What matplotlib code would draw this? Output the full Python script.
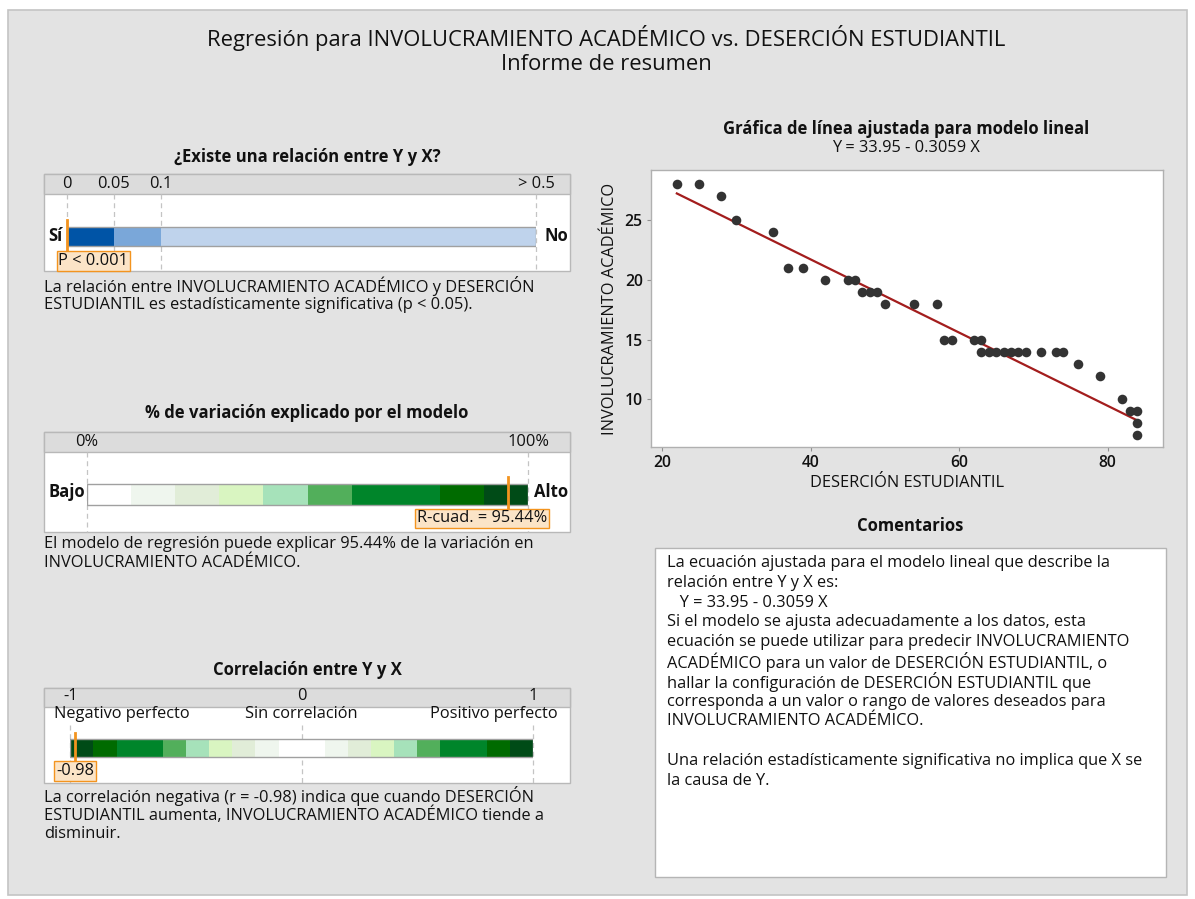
import numpy as np
import matplotlib
matplotlib.use("Agg")
import matplotlib.pyplot as plt
from matplotlib.patches import Rectangle

plt.rcParams['font.family'] = ['Open Sans', 'DejaVu Sans']

# ---------------- data ----------------
desercion = [22, 25, 28, 30, 35, 37, 39, 42, 45, 46, 47, 48, 49, 50, 54, 57, 58, 59,
             62, 63, 63, 64, 65, 66, 67, 68, 69, 71, 73, 74, 76, 79, 82, 83, 84, 84, 84]
involucramiento = [28, 28, 27, 25, 24, 21, 21, 20, 20, 20, 19, 19, 19, 18, 18, 18, 15, 15,
                   15, 15, 14, 14, 14, 14, 14, 14, 14, 14, 14, 14, 13, 12, 10, 9, 9, 8, 7]
intercept = 33.95
slope = -0.3059
r_squared = 95.44
correlation = -0.98
p_value = 0.0005
p_label = "P < 0.001"

p_breaks = [0, 0.05, 0.1, 0.5]
p_pos = [0, 1, 2, 10]
p_tick_labels = ['0', '0.05', '0.1', '> 0.5']
p_colors = ['#0054a6', '#7aa7d9', '#bfd3ec']

r2_edges = [0, 10, 20, 30, 40, 50, 60, 70, 80, 90, 100]
r2_colors = ['#ffffff', '#eff6ee', '#e1edd8', '#d9f5c1', '#a6e2ba', '#52af5b',
             '#00852a', '#00852a', '#006b00', '#004b17']
r2_tick_labels = ['0%', '100%']

corr_edges = [-1, -0.9, -0.8, -0.6, -0.5, -0.4, -0.3, -0.2, -0.1, 0.1,
              0.2, 0.3, 0.4, 0.5, 0.6, 0.8, 0.9, 1]
corr_colors = ['#004b17', '#006b00', '#00852a', '#52af5b', '#a6e2ba', '#d9f5c1',
               '#e1edd8', '#eff6ee', '#ffffff', '#eff6ee', '#e1edd8', '#d9f5c1',
               '#a6e2ba', '#52af5b', '#00852a', '#006b00', '#004b17']
corr_ticks = [-1, 0, 1]
corr_tick_labels = ['-1', '0', '1']

x_ticks = [20, 40, 60, 80]
y_ticks = [10, 15, 20, 25]

title1 = "Regresión para INVOLUCRAMIENTO ACADÉMICO vs. DESERCIÓN ESTUDIANTIL"
title2 = "Informe de resumen"
x_name = "DESERCIÓN ESTUDIANTIL"
y_name = "INVOLUCRAMIENTO ACADÉMICO"
eq = f"Y = {intercept:.2f} - {abs(slope):.4f} X"

comments = [
    "La ecuación ajustada para el modelo lineal que describe la",
    "relación entre Y y X es:",
    "   " + eq,
    "Si el modelo se ajusta adecuadamente a los datos, esta",
    "ecuación se puede utilizar para predecir INVOLUCRAMIENTO",
    "ACADÉMICO para un valor de DESERCIÓN ESTUDIANTIL, o",
    "hallar la configuración de DESERCIÓN ESTUDIANTIL que",
    "corresponda a un valor o rango de valores deseados para",
    "INVOLUCRAMIENTO ACADÉMICO.",
    "",
    "Una relación estadísticamente significativa no implica que X se",
    "la causa de Y.",
]
text1 = ["La relación entre INVOLUCRAMIENTO ACADÉMICO y DESERCIÓN",
         "ESTUDIANTIL es estadísticamente significativa (p < 0.05)."]
text2 = [f"El modelo de regresión puede explicar {r_squared:.2f}% de la variación en",
         "INVOLUCRAMIENTO ACADÉMICO."]
text3 = [f"La correlación negativa (r = {correlation:.2f}) indica que cuando DESERCIÓN",
         "ESTUDIANTIL aumenta, INVOLUCRAMIENTO ACADÉMICO tiende a",
         "disminuir."]

# ---------------- layout helpers ----------------
W, H = 1195, 899
fig = plt.figure(figsize=(W / 100, H / 100), dpi=100)
fig.patch.set_facecolor('white')

def rect(x0, y0, x1, y1):
    return [x0 / W, 1 - y1 / H, (x1 - x0) / W, (y1 - y0) / H]

BG = '#e3e3e3'
BORDER = '#c4c4c4'
HEADER = '#dcdcdc'
ORANGE = '#f3941f'
ORANGE_FACE = '#fbe4c7'
TXT = '#111111'
BODY = 11.8
BOLD = 12.0

bg = fig.add_axes([0, 0, 1, 1], zorder=0)
bg.set_xlim(0, W)
bg.set_ylim(H, 0)
bg.axis('off')
bg.add_patch(Rectangle((8, 10), 1179, 885, facecolor=BG, edgecolor=BORDER, lw=1.2))

bg.text(606, 46, title1, ha='center', va='baseline', fontsize=15.8, color=TXT)
bg.text(606, 70, title2, ha='center', va='baseline', fontsize=15.8, color=TXT)

def lines(x, y0, ls, step=19.2, **kw):
    for i, s in enumerate(ls):
        bg.text(x, y0 + i * step, s, ha='left', va='center', fontsize=BODY, color=TXT, **kw)

# panel boxes
panels = [
    dict(title="¿Existe una relación entre Y y X?", ty=157, box=(44, 174, 570, 271), hb=194),
    dict(title="% de variación explicado por el modelo", ty=413, box=(44, 432, 570, 532), hb=452),
    dict(title="Correlación entre Y y X", ty=670, box=(44, 688, 570, 783), hb=707),
]
for p in panels:
    x0, y0, x1, y1 = p['box']
    bg.add_patch(Rectangle((x0, y0), x1 - x0, y1 - y0, facecolor='white', edgecolor='#b8b8b8', lw=1))
    bg.add_patch(Rectangle((x0, y0), x1 - x0, p['hb'] - y0, facecolor=HEADER, edgecolor='#b8b8b8', lw=1))
    bg.text(307, p['ty'], p['title'], ha='center', va='center', fontsize=BOLD,
            fontweight='bold', color=TXT)

lines(44, 286, text1)
lines(44, 544, text2)
lines(44, 796, text3)


def gauge(px0, px1, box, xlim, scale=None):
    ax = fig.add_axes(rect(px0, box[1], px1, box[3]), zorder=2)
    if scale is not None:
        ax.set_xscale('function', functions=scale)
    ax.set_xlim(*xlim)
    ax.set_ylim(box[3], box[1])
    ax.axis('off')
    ax.patch.set_visible(False)
    return ax


def dashed(ax, xs, hb, yb):
    for x in xs:
        ax.plot([x, x], [hb, yb], color='#c4c4c4', lw=0.9, ls=(0, (4, 3)), clip_on=False, zorder=1)


def marker(ax, xv, ytop, ybot, label, dx_px, ylab):
    ax.plot([xv, xv], [ytop, ybot], color=ORANGE, lw=2, clip_on=False, zorder=5)
    ax.annotate(label, xy=(xv, ylab), xytext=(dx_px * 0.72, 0), textcoords='offset points',
                ha='center', va='center', fontsize=BODY, color=TXT, zorder=6,
                annotation_clip=False,
                bbox=dict(boxstyle='square,pad=0.1', facecolor=ORANGE_FACE, edgecolor=ORANGE, lw=1))

# ---- p-value gauge ----
def p_fwd(x):
    return np.interp(np.asarray(x, float), p_breaks, p_pos)

def p_inv(u):
    return np.interp(np.asarray(u, float), p_pos, p_breaks)

b = panels[0]['box']
axp = gauge(67, 536, b, (p_breaks[0], p_breaks[-1]), scale=(p_fwd, p_inv))
dashed(axp, p_breaks, 194, b[3])
for lo, hi, c in zip(p_breaks[:-1], p_breaks[1:], p_colors):
    axp.barh(236.5, hi - lo, left=lo, height=19, color=c, edgecolor='none', zorder=2)
axp.barh(236.5, p_breaks[-1] - p_breaks[0], left=p_breaks[0], height=19, color='none',
         edgecolor='#a0a0a0', lw=1, zorder=3)
for xv, s in zip(p_breaks, p_tick_labels):
    axp.text(xv, 184, s, ha='center', va='center', fontsize=BODY, color=TXT)
bg.text(55, 236, "Sí", ha='center', va='center', fontsize=BOLD, fontweight='bold', color=TXT)
bg.text(556, 236, "No", ha='center', va='center', fontsize=BOLD, fontweight='bold', color=TXT)
marker(axp, p_value, 220, 252, p_label, 26, 261)

# ---- R-squared gauge ----
b = panels[1]['box']
axr = gauge(87, 528, b, (0, 100))
dashed(axr, [r2_edges[0], r2_edges[-1]], 452, b[3])
for lo, hi, c in zip(r2_edges[:-1], r2_edges[1:], r2_colors):
    axr.barh(494.5, hi - lo, left=lo, height=21, color=c, edgecolor='none', zorder=2)
axr.barh(494.5, r2_edges[-1] - r2_edges[0], left=r2_edges[0], height=21, color='none',
         edgecolor='#a0a0a0', lw=1, zorder=3)
for xv, s in zip([r2_edges[0], r2_edges[-1]], r2_tick_labels):
    axr.text(xv, 441.5, s, ha='center', va='center', fontsize=BODY, color=TXT)
bg.text(67, 492, "Bajo", ha='center', va='center', fontsize=BOLD, fontweight='bold', color=TXT)
bg.text(551, 492, "Alto", ha='center', va='center', fontsize=BOLD, fontweight='bold', color=TXT)
marker(axr, r_squared, 477, 511, f"R-cuad. = {r_squared:.2f}%", -26, 518.5)

# ---- correlation gauge ----
b = panels[2]['box']
axc = gauge(70.3, 533, b, (-1, 1))
dashed(axc, corr_ticks, 725, b[3])
for lo, hi, c in zip(corr_edges[:-1], corr_edges[1:], corr_colors):
    axc.barh(748, hi - lo, left=lo, height=18, color=c, edgecolor='none', zorder=2)
axc.barh(748, corr_edges[-1] - corr_edges[0], left=corr_edges[0], height=18, color='none',
         edgecolor='#a0a0a0', lw=1, zorder=3)
for xv, s in zip(corr_ticks, corr_tick_labels):
    axc.text(xv, 696.5, s, ha='center', va='center', fontsize=BODY, color=TXT)
bg.text(54, 714.5, "Negativo perfecto", ha='left', va='center', fontsize=BODY, color=TXT)
axc.text(0, 714.5, "Sin correlación", ha='center', va='center', fontsize=BODY, color=TXT)
bg.text(558, 714.5, "Positivo perfecto", ha='right', va='center', fontsize=BODY, color=TXT)
marker(axc, correlation, 733, 763, f"{correlation:.2f}", 0, 771)

# ---------------- scatter ----------------
bg.text(906, 129, "Gráfica de línea ajustada para modelo lineal", ha='center', va='center',
        fontsize=BOLD, fontweight='bold', color=TXT)
bg.text(906, 148, eq, ha='center', va='center', fontsize=BODY, color=TXT)

axs = fig.add_axes(rect(651, 170, 1163, 447), zorder=2)
axs.set_facecolor('white')
xs = np.array(desercion, float)
ys = np.array(involucramiento, float)
xl = np.array([xs.min(), xs.max()])
axs.plot(xl, intercept + slope * xl, color='#a31d1d', lw=1.6, zorder=2)
axs.scatter(xs, ys, s=48, color='#333333', zorder=3, linewidths=0)
axs.set_xlim(18.52, 87.47)
axs.set_ylim(6.03, 29.18)
axs.set_xticks(x_ticks)
axs.set_yticks(y_ticks)
axs.tick_params(direction='out', length=3, width=0.8, color='#909090', labelsize=BODY - 0.5,
                labelcolor=TXT, pad=3)
for lab in axs.get_xticklabels() + axs.get_yticklabels():
    lab.set_fontweight('semibold')
for sp in axs.spines.values():
    sp.set_color('#b0b0b0')
    sp.set_linewidth(1)
axs.set_xlabel(x_name, fontsize=BODY, color=TXT, labelpad=3)
axs.set_ylabel(y_name, fontsize=BODY, color=TXT, labelpad=5)

# ---------------- comments ----------------
bg.text(910, 526, "Comentarios", ha='center', va='center', fontsize=BOLD,
        fontweight='bold', color=TXT)
bg.add_patch(Rectangle((655, 548), 511, 329, facecolor='white', edgecolor='#b5b5b5', lw=1))
for i, s in enumerate(comments):
    bg.text(667, 563 + i * 19.8, s, ha='left', va='center', fontsize=BODY, color=TXT)

fig.savefig('out.png', dpi=100, facecolor='white')
